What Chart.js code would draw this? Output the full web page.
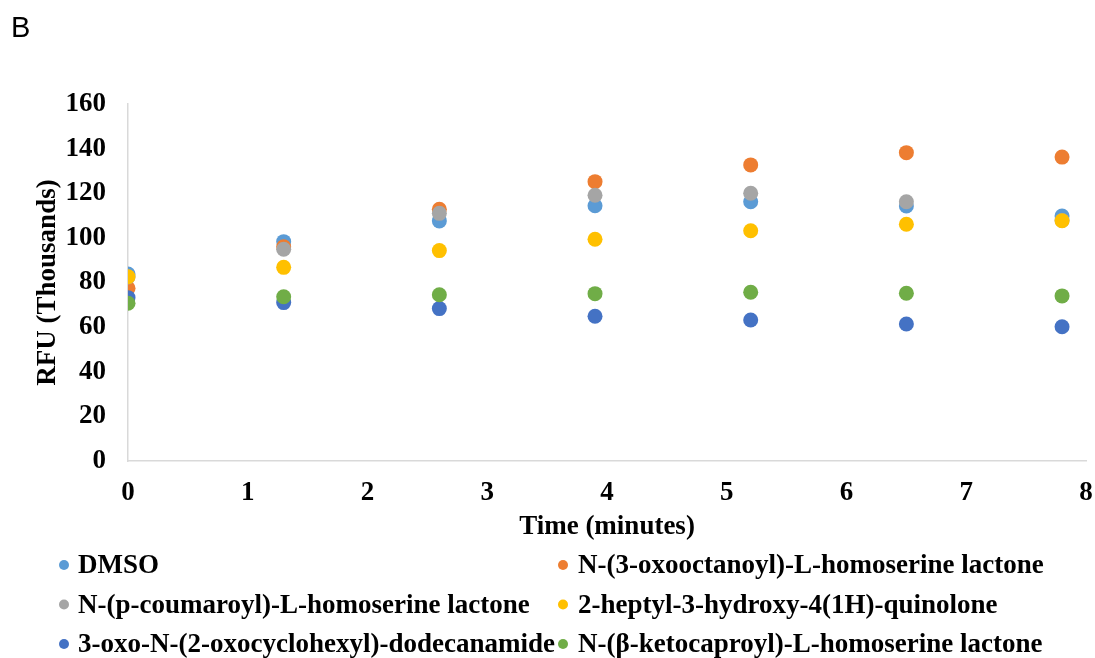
<!DOCTYPE html>
<html lang="en">
<head>
    <meta charset="UTF-8">
    <title>RFU over time</title>
    <script src="https://cdn.jsdelivr.net/npm/chart.js"></script>
    <style>
        html, body { margin: 0; padding: 0; background: #fff; }
        #wrap { position: relative; width: 1095px; height: 658px; }
    </style>
</head>
<body>
    <div id="wrap"><canvas id="myChart" width="1095" height="658"></canvas></div>

    <script>
        // time points (minutes)
        const timePoints = [0, 1.3, 2.6, 3.9, 5.2, 6.5, 7.8];

        // RFU values in thousands
        const dmso      = [83.8, 98.3, 107.6, 114.4, 116.2, 114.3, 109.8];
        const oxoOct    = [77.4, 96.0, 112.8, 125.2, 132.7, 138.2, 136.2];
        const coumaroyl = [82.5, 94.9, 111.0, 119.1, 120.0, 116.2, 107.8];
        const heptyl    = [82.6, 86.8, 94.3, 99.4, 103.2, 106.1, 107.7];
        const oxoDodec  = [73.2, 71.0, 68.3, 64.9, 63.2, 61.4, 60.2];
        const ketoCap   = [70.7, 73.6, 74.5, 75.0, 75.6, 75.2, 74.0];

        const seriesNames = [
            'DMSO',
            'N-(3-oxooctanoyl)-L-homoserine lactone',
            'N-(p-coumaroyl)-L-homoserine lactone',
            '2-heptyl-3-hydroxy-4(1H)-quinolone',
            '3-oxo-N-(2-oxocyclohexyl)-dodecanamide',
            'N-(\u03B2-ketocaproyl)-L-homoserine lactone'
        ];
        const seriesValues = [dmso, oxoOct, coumaroyl, heptyl, oxoDodec, ketoCap];
        const colors = ['#5B9BD5', '#ED7D31', '#A5A5A5', '#FFC000', '#4472C4', '#70AD47'];

        const serif = '"Liberation Serif", "Times New Roman", serif';
        const axisColor = '#D9D9D9';
        const boldFont = { family: serif, size: 27, weight: 'bold', lineHeight: 1.2 };

        const datasets = seriesValues.map((vals, i) => ({
            label: seriesNames[i],
            data: vals.map((v, j) => ({ x: timePoints[j], y: v })),
            backgroundColor: colors[i],
            borderColor: colors[i],
            pointRadius: 7.5,
            pointHoverRadius: 7.5,
            pointBorderWidth: 0,
            order: seriesValues.length - 1 - i // later series drawn on top, like Excel
        }));

        // "B" panel letter and the two column legend
        const extras = {
            id: 'extras',
            afterDraw(chart) {
                const c = chart.ctx;
                c.save();
                c.fillStyle = '#000';
                c.textAlign = 'left';
                c.textBaseline = 'alphabetic';
                c.font = '29px "Liberation Sans", Arial, sans-serif';
                c.fillText('B', 11, 37);

                c.font = 'bold 27px ' + serif;
                const colDot = [64, 563];
                const colText = [78, 578];
                const rowBase = [573, 612.5, 652];
                chart.data.datasets.forEach((ds, i) => {
                    const col = i % 2, row = Math.floor(i / 2);
                    c.fillStyle = ds.backgroundColor;
                    c.beginPath();
                    c.arc(colDot[col], rowBase[row] - 8, 5, 0, Math.PI * 2);
                    c.fill();
                    c.fillStyle = '#000';
                    c.fillText(ds.label, colText[col], rowBase[row]);
                });
                c.restore();
            }
        };

        const ctx = document.getElementById('myChart').getContext('2d');
        const myChart = new Chart(ctx, {
            type: 'scatter',
            data: { datasets: datasets },
            options: {
                responsive: false,
                animation: false,
                layout: { padding: { top: 104, right: 9, left: 0, bottom: 113 } },
                plugins: {
                    legend: { display: false },
                    tooltip: { enabled: false }
                },
                scales: {
                    x: {
                        type: 'linear',
                        min: 0,
                        max: 8,
                        afterFit: s => { s.height = 84; s.paddingRight = 0; s.paddingLeft = 0; },
                        grid: { display: false, drawTicks: false },
                        border: { display: true, color: axisColor, width: 1.5 },
                        ticks: { stepSize: 1, padding: 16, color: '#000', font: boldFont },
                        title: { display: true, text: 'Time (minutes)', color: '#000',
                                 padding: { top: 0, bottom: 2 }, font: boldFont }
                    },
                    y: {
                        min: 0,
                        max: 160,
                        afterFit: s => { s.width = 128; s.paddingTop = 0; s.paddingBottom = 0; },
                        grid: { display: false, drawTicks: false },
                        border: { display: true, color: axisColor, width: 1.5 },
                        ticks: { stepSize: 20, padding: 22, color: '#000', font: boldFont },
                        title: { display: true, text: 'RFU (Thousands)', color: '#000',
                                 padding: { top: 32, bottom: 0 }, font: boldFont }
                    }
                }
            },
            plugins: [extras]
        });
    </script>
</body>
</html>
